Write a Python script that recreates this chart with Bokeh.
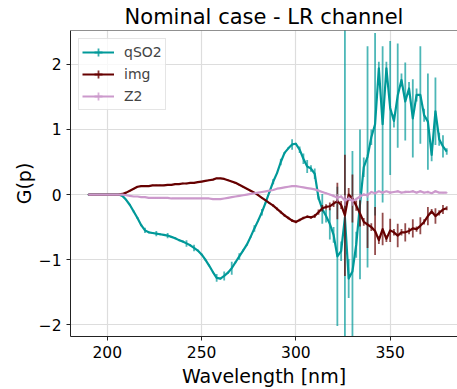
import numpy as np
from bokeh.plotting import figure
from bokeh.models import (ColumnDataSource, Legend, LegendItem, FixedTicker,
                          Span, Range1d)
from bokeh.embed import file_html
from bokeh.resources import INLINE

# ---------------- data ----------------
wavelength = [190, 192, 194, 196, 198, 200, 202, 204, 206, 208,
              210, 212, 214, 216, 218, 220, 222, 224, 226, 228,
              230, 232, 234, 236, 238, 240, 242, 244, 246, 248,
              250, 252, 254, 256, 258, 260, 262, 264, 266, 268,
              270, 272, 274, 276, 278, 280, 282, 284, 286, 288,
              290, 292, 294, 296, 298, 300, 302, 304, 306, 308,
              310, 312, 314, 316, 318, 320, 322, 324, 326, 328,
              330, 332, 334, 336, 338, 340, 342, 344, 346, 348,
              350, 352, 354, 356, 358, 360, 362, 364, 366, 368,
              370, 372, 374, 376, 378, 380]

qSO2 = [0.0, 0.0, 0.0, 0.0, 0.0, 0.0, 0.0, 0.0, 0.0, -0.02,
        -0.08, -0.16, -0.26, -0.36, -0.47, -0.55, -0.58, -0.59, -0.60, -0.61,
        -0.62, -0.63, -0.65, -0.67, -0.70, -0.72, -0.75, -0.78, -0.82, -0.86,
        -0.92, -1.00, -1.09, -1.19, -1.28, -1.29, -1.25, -1.20, -1.13, -1.04,
        -0.95, -0.86, -0.77, -0.65, -0.52, -0.40, -0.27, -0.12, 0.04, 0.20,
        0.33, 0.50, 0.64, 0.71, 0.77, 0.78, 0.69, 0.55, 0.43, 0.40,
        0.32, -0.05, -0.22, -0.33, -0.45, -0.62, -0.95, -0.87, -0.35, -1.29,
        -1.18, -0.77, -0.15, 0.42, 0.58, 0.88, 1.08, 1.94, 1.08, 1.94,
        1.33, 1.13, 1.52, 1.76, 1.43, 1.63, 1.17, 1.53, 1.53, 1.22,
        1.12, 0.61, 1.28, 0.85, 0.74, 0.66]
qSO2_err = [0.01, 0.01, 0.01, 0.01, 0.01, 0.01, 0.01, 0.01, 0.01, 0.01,
            0.01, 0.01, 0.015, 0.015, 0.015, 0.04, 0.015, 0.015, 0.04, 0.015,
            0.015, 0.04, 0.015, 0.015, 0.015, 0.015, 0.05, 0.015, 0.05, 0.015,
            0.015, 0.015, 0.015, 0.015, 0.06, 0.015, 0.07, 0.015, 0.10, 0.015,
            0.05, 0.015, 0.015, 0.015, 0.05, 0.015, 0.05, 0.015, 0.015, 0.04,
            0.015, 0.05, 0.015, 0.015, 0.08, 0.015, 0.05, 0.08, 0.10, 0.05,
            0.08, 0.03, 0.23, 0.10, 0.24, 0.12, 1.07, 0.15, 3.00, 0.30,
            1.85, 0.20, 1.15, 0.15, 1.70, 0.12, 1.40, 0.10, 1.20, 0.10,
            1.03, 0.10, 0.80, 0.10, 0.60, 0.10, 0.60, 0.10, 0.75, 0.10,
            0.74, 0.10, 0.52, 0.10, 0.17, 0.05]

img = [0.0, 0.0, 0.0, 0.0, 0.0, 0.0, 0.0, 0.0, 0.0, 0.01,
       0.03, 0.06, 0.09, 0.12, 0.13, 0.13, 0.13, 0.14, 0.14, 0.14,
       0.14, 0.15, 0.15, 0.16, 0.16, 0.17, 0.17, 0.18, 0.18, 0.19,
       0.20, 0.21, 0.22, 0.23, 0.25, 0.25, 0.24, 0.22, 0.20, 0.18,
       0.15, 0.12, 0.09, 0.06, 0.03, -0.01, -0.05, -0.09, -0.13, -0.17,
       -0.22, -0.27, -0.32, -0.36, -0.40, -0.42, -0.39, -0.36, -0.34, -0.35,
       -0.33, -0.27, -0.21, -0.19, -0.18, -0.14, -0.10, -0.16, -0.32, 0.0,
       -0.06, -0.17, -0.29, -0.42, -0.46, -0.50, -0.56, -0.70, -0.53, -0.68,
       -0.55, -0.58, -0.63, -0.58, -0.58, -0.56, -0.52, -0.53, -0.48, -0.42,
       -0.33, -0.26, -0.33, -0.28, -0.23, -0.21]
img_err = [0.005, 0.005, 0.005, 0.005, 0.005, 0.005, 0.005, 0.005, 0.005, 0.01,
           0.01, 0.01, 0.01, 0.01, 0.01, 0.01, 0.01, 0.01, 0.01, 0.01,
           0.01, 0.01, 0.01, 0.01, 0.01, 0.01, 0.01, 0.01, 0.01, 0.01,
           0.01, 0.01, 0.01, 0.01, 0.01, 0.01, 0.01, 0.01, 0.01, 0.01,
           0.01, 0.01, 0.01, 0.01, 0.01, 0.01, 0.01, 0.01, 0.01, 0.02,
           0.02, 0.02, 0.02, 0.02, 0.02, 0.02, 0.02, 0.02, 0.02, 0.02,
           0.03, 0.04, 0.05, 0.04, 0.06, 0.05, 0.28, 0.06, 0.93, 0.10,
           0.37, 0.08, 0.20, 0.06, 0.36, 0.06, 0.37, 0.06, 0.25, 0.05,
           0.18, 0.05, 0.18, 0.05, 0.14, 0.05, 0.14, 0.04, 0.13, 0.04,
           0.14, 0.04, 0.12, 0.04, 0.07, 0.03]

Z2 = [0.0, 0.0, 0.0, 0.0, 0.0, 0.0, 0.0, 0.0, 0.0, 0.0,
      -0.01, -0.02, -0.03, -0.03, -0.04, -0.04, -0.05, -0.05, -0.05, -0.05,
      -0.05, -0.05, -0.06, -0.06, -0.06, -0.06, -0.06, -0.06, -0.06, -0.06,
      -0.06, -0.06, -0.06, -0.07, -0.07, -0.07, -0.06, -0.05, -0.04, -0.03,
      -0.02, -0.01, 0.0, 0.01, 0.02, 0.03, 0.04, 0.05, 0.06, 0.07,
      0.09, 0.10, 0.11, 0.12, 0.13, 0.13, 0.12, 0.11, 0.10, 0.09,
      0.08, 0.06, 0.04, 0.02, 0.0, -0.02, -0.05, -0.03, -0.09, -0.06,
      -0.10, -0.07, -0.03, 0.0, -0.01, 0.04, 0.02, 0.05, 0.03, 0.05,
      0.03, 0.04, 0.05, 0.03, 0.04, 0.04, 0.05, 0.03, 0.05, 0.03,
      0.04, 0.02, 0.05, 0.03, 0.03, 0.03]
Z2_err = [0.005] * 60 + [0.01, 0.01, 0.01, 0.01, 0.01, 0.02, 0.06, 0.02, 0.08, 0.03,
                         0.07, 0.02, 0.05, 0.02, 0.04, 0.01, 0.02, 0.01, 0.02, 0.01,
                         0.02, 0.01, 0.02, 0.01, 0.02, 0.01, 0.02, 0.01, 0.02, 0.01,
                         0.02, 0.01, 0.02, 0.01, 0.01, 0.01]

series_names = ["qSO2", "img", "Z2"]
series_colors = ["#009999", "#660000", "#cc99cc"]
x_ticks = [200, 250, 300, 350]
y_ticks = [-2, -1, 0, 1, 2]
x_lim = (180.5, 385.7)
y_lim = (-2.18, 2.52)

FONT = "DejaVu Sans"

p = figure(width=457, height=389, output_backend="svg", toolbar_location=None,
           x_range=Range1d(*x_lim), y_range=Range1d(*y_lim),
           min_border_left=70, min_border_right=0, min_border_top=29,
           min_border_bottom=53)

p.title.text = "Nominal case - LR channel"
p.title.align = "center"
p.title.text_font = FONT
p.title.text_font_size = "21px"
p.title.text_font_style = "normal"
p.title.text_color = "black"
p.title.offset = 2
p.title.standoff = 4

p.outline_line_color = None
p.background_fill_color = "white"
p.border_fill_color = "white"

for ax in (p.xaxis, p.yaxis):
    ax.axis_line_color = "#222222"
    ax.axis_line_width = 1
    ax.major_tick_line_color = "#222222"
    ax.major_tick_out = 4
    ax.major_tick_in = 0
    ax.minor_tick_line_color = None
    ax.major_label_text_font = FONT
    ax.major_label_text_font_size = "15.5px"
    ax.major_label_text_color = "black"
    ax.axis_label_text_font = FONT
    ax.axis_label_text_font_size = "19px"
    ax.axis_label_text_font_style = "normal"
    ax.axis_label_text_color = "black"

p.xaxis.ticker = FixedTicker(ticks=x_ticks)
p.yaxis.ticker = FixedTicker(ticks=y_ticks)
p.yaxis.major_label_overrides = {t: ("\u2212" + str(abs(t)) if t < 0 else str(t)) for t in y_ticks}
p.xaxis.axis_label = "Wavelength [nm]"
p.yaxis.axis_label = "G(p)"
p.xaxis.major_label_standoff = 5
p.yaxis.major_label_standoff = 5
p.xaxis.axis_label_standoff = 4
p.yaxis.axis_label_standoff = 1

p.xgrid.grid_line_color = "#dddddd"
p.ygrid.grid_line_color = "#dddddd"
p.xgrid.grid_line_width = 1.2
p.ygrid.grid_line_width = 1.2

# top spine
p.add_layout(Span(location=y_lim[1], dimension="width", line_color="#222222", line_width=1))

items = []
for name, yv, ev, col in zip(series_names, [qSO2, img, Z2], [qSO2_err, img_err, Z2_err], series_colors):
    y = np.array(yv)
    e = np.array(ev)
    src = ColumnDataSource(dict(x=wavelength, y=y, lo=y - e, hi=y + e))
    ln = p.line("x", "y", source=src, line_color=col, line_width=2.2, line_join="round")
    p.segment(x0="x", y0="lo", x1="x", y1="hi", source=src, line_color=col,
              line_width=1.8, line_alpha=0.7)
    tick = p.scatter("x", "y", source=src, marker="cross", size=0, line_color=col,
                     line_width=1.8, line_alpha=0.8)
    items.append(LegendItem(label=name, renderers=[ln, tick]))

legend = Legend(items=items, location="top_left", margin=8, padding=3, spacing=2,
                glyph_width=32, glyph_height=20, label_height=20, label_standoff=10,
                label_text_font=FONT, label_text_font_size="14px",
                border_line_color="#cccccc", border_line_width=1,
                background_fill_color="white", background_fill_alpha=0.8)
p.add_layout(legend)

open("out.html", "w").write(file_html(p, INLINE))
